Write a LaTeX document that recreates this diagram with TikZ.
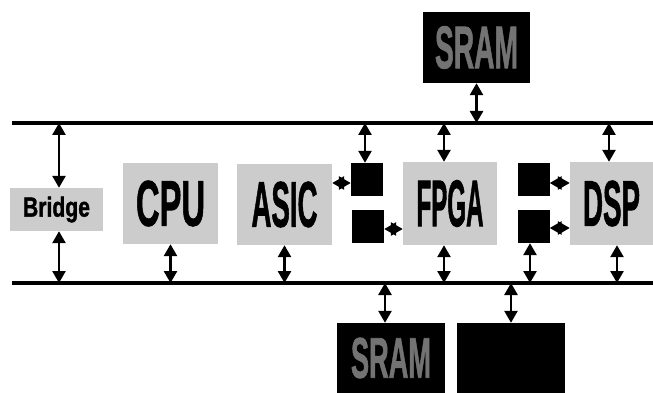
\documentclass[tikz,border=0pt]{standalone}
\usepackage{fontspec}
\setmainfont{Liberation Sans}
\newfontfamily\heavy{Liberation Sans Bold}[FakeBold=1.5]
\usetikzlibrary{arrows.meta}
\newcommand\bigtxt[3]{\resizebox{#1pt}{#2pt}{\heavy #3}}
\begin{document}
\begin{tikzpicture}[x=1pt,y=-1pt,
  box/.style={fill=gray!40, draw=none, inner sep=0pt},
  blk/.style={fill=black, draw=none, inner sep=0pt, text=black!55},
  sq/.style={fill=black, draw=none, inner sep=0pt, minimum width=32pt, minimum height=33pt},
  bus/.style={line width=4pt},
  dar/.style={line width=2.6pt, {Triangle[width=13pt,length=12pt]}-{Triangle[width=13pt,length=12pt]}}
]
\useasboundingbox (0,0) rectangle (653,393);
% buses
\coordinate (tl) at (12,123);
\coordinate (tr) at (653,123);
\coordinate (bl) at (12,283);
\coordinate (br) at (653,283);
\draw[bus] (tl) -- (tr);
\draw[bus] (bl) -- (br);
% boxes
\node[box, minimum width=93pt, minimum height=43pt] (bridge) at (56.5,209.5) {\bigtxt{67}{20}{Bridge}};
\node[box, minimum width=95pt, minimum height=81pt] (cpu) at (170.5,203.5) {\bigtxt{69}{45}{CPU}};
\node[box, minimum width=95pt, minimum height=81pt] (asic) at (284.5,204.5) {\bigtxt{66}{45}{ASIC}};
\node[box, minimum width=94pt, minimum height=83pt] (fpga) at (450,203.5) {\bigtxt{67}{46}{FPGA}};
\node[box, minimum width=83pt, minimum height=83pt] (dsp) at (611.5,203.5) {\bigtxt{57}{45}{DSP}};
\node[sq] (l1) at (367,179.5) {};
\node[sq] (l2) at (368,226) {};
\node[sq] (r1) at (533.5,179.5) {};
\node[sq] (r2) at (533.5,226.5) {};
\node[blk, minimum width=107pt, minimum height=71pt] (sramt) at (476.5,47.5) {\bigtxt{83}{42}{SRAM}};
\node[blk, minimum width=108pt, minimum height=70pt] (sramb) at (391,358) {\bigtxt{80}{40}{SRAM}};
\node[blk, minimum width=108pt, minimum height=70pt] (flash) at (511,358) {};
% arrow x positions
\coordinate (xbr) at (59,0);
\coordinate (xl1) at (365,0);
\coordinate (xfp) at (444,0);
\coordinate (xdt) at (609,0);
\coordinate (xdb) at (617,0);
\coordinate (xsb) at (385,0);
\coordinate (xr2) at (530,0);
% vertical connectors
\draw[dar] (tl -| xbr) -- (bridge.north -| xbr);
\draw[dar] (bridge.south -| xbr) -- (bl -| xbr);
\draw[dar] (cpu.south) -- (bl -| cpu.south);
\draw[dar] (asic.south) -- (bl -| asic.south);
\draw[dar] (tl -| xl1) -- (l1.north -| xl1);
\draw[dar] (sramt.south) -- (tl -| sramt.south);
\draw[dar] (tl -| xfp) -- (fpga.north -| xfp);
\draw[dar] (fpga.south -| xfp) -- (bl -| xfp);
\draw[dar] (tl -| xdt) -- (dsp.north -| xdt);
\draw[dar] (dsp.south -| xdb) -- (bl -| xdb);
\draw[dar] (r2.south -| xr2) -- (bl -| xr2);
\draw[dar] (bl -| xsb) -- (sramb.north -| xsb);
\draw[dar] (bl -| flash.north) -- (flash.north);
% horizontal connectors
\draw[dar] ([yshift=-3.5pt]l1.west -| asic.east) -- ([yshift=-3.5pt]l1.west);
\draw[dar] ([yshift=-3pt]l2.east) -- ([yshift=-3pt]l2.east -| fpga.west);
\draw[dar] ([yshift=-3.5pt]r1.east) -- ([yshift=-3.5pt]r1.east -| dsp.west);
\draw[dar] ([yshift=-1.5pt]r2.east) -- ([yshift=-1.5pt]r2.east -| dsp.west);
\end{tikzpicture}
\end{document}
